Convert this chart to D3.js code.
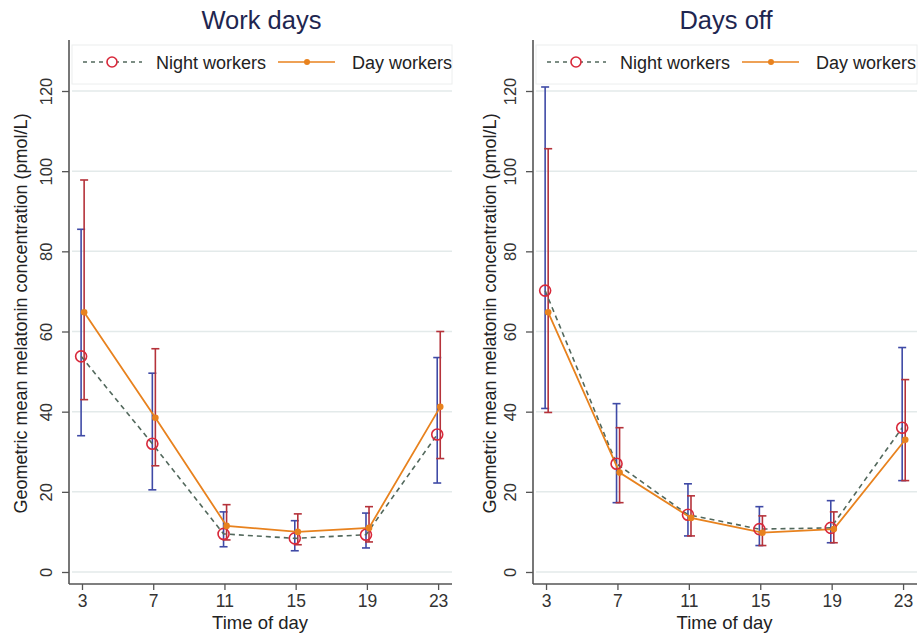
<!DOCTYPE html>
<html>
<head>
<meta charset="utf-8">
<script src="https://cdn.jsdelivr.net/npm/d3@7"></script>
<style>
  body { margin: 0; background: #fff; }
  svg { font-family: "Liberation Sans", Arial, sans-serif; }
</style>
</head>
<body>
<svg id="chart" width="919" height="635"></svg>
<script>
const hours = [3, 7, 11, 15, 19, 23];
const yTicks = [0, 20, 40, 60, 80, 100, 120];
const panelTitles = ['Work days', 'Days off'];
const seriesNames = ['Night workers', 'Day workers'];

// work days
const workNight = [53.8, 32, 9.5, 8.4, 9.3, 34.3];
const workNightLo = [34, 20.5, 6.3, 5.3, 6, 22.2];
const workNightHi = [85.5, 49.6, 15, 12.8, 14.7, 53.5];
const workDay = [64.8, 38.5, 11.5, 10, 11, 41.2];
const workDayLo = [43, 26.5, 8, 6.8, 7.5, 28.3];
const workDayHi = [97.8, 55.7, 16.8, 14.5, 16.3, 60];

// days off
const offNight = [70.2, 27, 14.3, 10.7, 11, 36];
const offNightLo = [40.8, 17.3, 9, 6.6, 7.3, 22.8];
const offNightHi = [121, 42, 22, 16.3, 17.8, 56];
const offDay = [64.8, 24.8, 13.5, 9.8, 10.7, 33];
const offDayLo = [39.8, 17.3, 9, 6.6, 7.3, 22.8];
const offDayHi = [105.6, 36, 19, 14, 15, 48];

const nightShift = -0.05, dayShift = 0.12;

const svg = d3.select('#chart');

const panels = [
  { title: panelTitles[0], left: 69, right: 452, yTitleX: 22,
    night: workNight, nightLo: workNightLo, nightHi: workNightHi,
    day: workDay, dayLo: workDayLo, dayHi: workDayHi },
  { title: panelTitles[1], left: 533, right: 917, yTitleX: 491,
    night: offNight, nightLo: offNightLo, nightHi: offNightHi,
    day: offDay, dayLo: offDayLo, dayHi: offDayHi }
];

const axisTop = 40, axisBottom = 584;

panels.forEach(p => {
  const g = svg.append('g');
  const x = d3.scaleLinear().domain([2.27, 23.78]).range([p.left, p.right]);
  const y = d3.scaleLinear().domain([0, 120]).range([572, 91]);

  // title
  g.append('text')
    .attr('x', (p.left + p.right) / 2 + 1)
    .attr('y', 29)
    .attr('text-anchor', 'middle')
    .attr('font-size', 25.5)
    .attr('fill', '#1e2650')
    .text(p.title);

  // grid
  g.selectAll('.grid')
    .data(yTicks)
    .enter()
    .append('line')
    .attr('x1', p.left + 3).attr('x2', p.right)
    .attr('y1', d => y(d)).attr('y2', d => y(d))
    .attr('stroke', '#e3eaea')
    .attr('stroke-width', 1.5);

  // legend box
  g.append('rect')
    .attr('x', p.left + 3).attr('y', 45)
    .attr('width', p.right - p.left - 3).attr('height', 39)
    .attr('fill', '#fff')
    .attr('stroke', '#eceeee');

  const lg = g.append('g').attr('transform', `translate(${p.left},62)`);
  lg.append('line').attr('x1', 14).attr('x2', 73).attr('y1', 0).attr('y2', 0)
    .attr('stroke', '#52685c').attr('stroke-width', 1.3).attr('stroke-dasharray', '4,4');
  lg.append('circle').attr('cx', 43).attr('cy', 0).attr('r', 5)
    .attr('fill', '#fff').attr('stroke', '#d8283a').attr('stroke-width', 1.6);
  lg.append('text').attr('x', 87).attr('y', 6.5).attr('font-size', 18)
    .attr('fill', '#222').text(seriesNames[0]);
  lg.append('line').attr('x1', 209).attr('x2', 266).attr('y1', 0).attr('y2', 0)
    .attr('stroke', '#e8821e').attr('stroke-width', 1.6);
  lg.append('circle').attr('cx', 238).attr('cy', 0).attr('r', 3)
    .attr('fill', '#e8821e');
  lg.append('text').attr('x', 283).attr('y', 6.5).attr('font-size', 18)
    .attr('fill', '#222').text(seriesNames[1]);

  // error bars
  const errorBars = (xs, lo, hi, color) => {
    const eb = g.append('g').attr('stroke', color).attr('stroke-width', 1.6);
    hours.forEach((h, i) => {
      const cx = x(h + xs);
      eb.append('line').attr('x1', cx).attr('x2', cx)
        .attr('y1', y(lo[i])).attr('y2', y(hi[i]));
      [lo[i], hi[i]].forEach(v => {
        eb.append('line').attr('x1', cx - 4).attr('x2', cx + 4)
          .attr('y1', y(v)).attr('y2', y(v));
      });
    });
  };
  errorBars(nightShift, p.nightLo, p.nightHi, '#3f4aa6');
  errorBars(dayShift, p.dayLo, p.dayHi, '#b5323a');

  // lines
  const nightLine = d3.line().x((d, i) => x(hours[i] + nightShift)).y(d => y(d));
  const dayLine = d3.line().x((d, i) => x(hours[i] + dayShift)).y(d => y(d));

  g.append('path').datum(p.night).attr('d', nightLine)
    .attr('fill', 'none').attr('stroke', '#52685c')
    .attr('stroke-width', 1.6).attr('stroke-dasharray', '5,4');
  g.append('path').datum(p.day).attr('d', dayLine)
    .attr('fill', 'none').attr('stroke', '#e8821e').attr('stroke-width', 1.8);

  g.selectAll('.nc').data(p.night).enter().append('circle')
    .attr('cx', (d, i) => x(hours[i] + nightShift)).attr('cy', d => y(d))
    .attr('r', 5.5).attr('fill', 'none')
    .attr('stroke', '#d8283a').attr('stroke-width', 1.6);
  g.selectAll('.dc').data(p.day).enter().append('circle')
    .attr('cx', (d, i) => x(hours[i] + dayShift)).attr('cy', d => y(d))
    .attr('r', 3.3).attr('fill', '#e8821e');

  // y axis
  const yAxis = g.append('g')
    .attr('transform', `translate(${p.left},0)`)
    .call(d3.axisLeft(y).tickValues(yTicks).tickSize(7).tickPadding(8));
  yAxis.select('.domain').remove();
  yAxis.append('line').attr('x1', 0).attr('x2', 0).attr('y1', axisTop).attr('y2', axisBottom)
    .attr('stroke', '#555').attr('stroke-width', 1.6);
  yAxis.selectAll('.tick line').attr('stroke', '#555').attr('stroke-width', 1.3);
  yAxis.selectAll('.tick text')
    .attr('font-size', 16.5).attr('fill', '#333')
    .attr('text-anchor', 'middle')
    .attr('dy', null)
    .attr('x', 0).attr('y', 0)
    .attr('transform', 'translate(-21,0) rotate(-90)')
    .attr('dominant-baseline', 'middle');

  // x axis
  const xAxis = g.append('g')
    .attr('transform', `translate(0,${axisBottom})`)
    .call(d3.axisBottom(x).tickValues(hours).tickSize(6).tickPadding(5)
      .tickFormat(d3.format('d')));
  xAxis.select('.domain').remove();
  xAxis.append('line').attr('x1', p.left).attr('x2', p.right).attr('y1', 0).attr('y2', 0)
    .attr('stroke', '#555').attr('stroke-width', 1.6);
  xAxis.selectAll('.tick line').attr('stroke', '#555').attr('stroke-width', 1.3);
  xAxis.selectAll('.tick text').attr('font-size', 17.5).attr('fill', '#333');

  g.append('text')
    .attr('x', (x(3) + x(23)) / 2)
    .attr('y', 629)
    .attr('text-anchor', 'middle')
    .attr('font-size', 18.5)
    .attr('fill', '#222')
    .text('Time of day');

  g.append('text')
    .attr('transform', `translate(${p.yTitleX},${y(64.5)}) rotate(-90)`)
    .attr('text-anchor', 'middle')
    .attr('dominant-baseline', 'middle')
    .attr('font-size', 18)
    .attr('fill', '#222')
    .text('Geometric mean melatonin concentration (pmol/L)');
});
</script>
</body>
</html>
